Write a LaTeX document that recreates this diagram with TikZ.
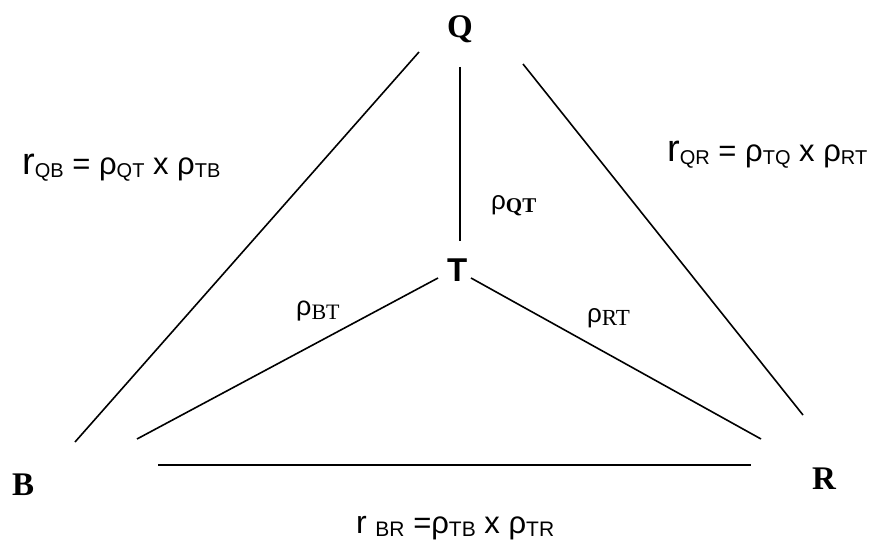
\documentclass[tikz,border=0pt]{standalone}
\usepackage{fontspec}
\setmainfont{Liberation Serif}
\newfontfamily\arial{Liberation Sans}
\newcommand\fs[2]{{\fontsize{#1}{#1}\selectfont #2}}
\newcommand\sbs[3]{\raisebox{-#1pt}{\fontsize{#2}{#2}\selectfont #3}}
\begin{document}
\begin{tikzpicture}[x=1pt,y=-1pt,
  edge/.style={line width=1.6pt},
  lbl/.style={inner sep=0pt, anchor=base west},
  vtx/.style={lbl, font=\bfseries\fontsize{33}{33}\selectfont},
  formula/.style={lbl, font=\arial\fontsize{31}{31}\selectfont}]
\useasboundingbox (0,0) rectangle (872,545);
% vertices
\node[vtx] (Q) at (447,38) {Q};
\node[vtx, font=\arial\bfseries\fontsize{33}{33}\selectfont] (T) at (447,281) {T};
\node[vtx] (B) at (12,495) {B};
\node[vtx] (R) at (812,489) {R};
% connector end points
\coordinate (qb1) at (419,52);  \coordinate (qb2) at (75,442);
\coordinate (qt1) at (460,67);  \coordinate (qt2) at (460,241);
\coordinate (qr1) at (523,64);  \coordinate (qr2) at (803,415);
\coordinate (tb1) at (438,278); \coordinate (tb2) at (137,439);
\coordinate (tr1) at (471,278); \coordinate (tr2) at (761,439);
\coordinate (br1) at (158,465); \coordinate (br2) at (751,465);
\draw[edge] (qb1) -- (qb2);
\draw[edge] (qt1) -- (qt2);
\draw[edge] (qr1) -- (qr2);
\draw[edge] (tb1) -- (tb2);
\draw[edge] (tr1) -- (tr2);
\draw[edge] (br1) -- (br2);
% formulas
\node[formula] (fqb) at (22,175) {\fs{38}{r}\sbs{3}{20}{QB} = ρ\sbs{3}{20}{QT} x ρ\sbs{3}{20}{TB}};
\node[formula] (fqr) at (667,162) {\fs{38}{r}\sbs{3}{20}{QR} = ρ\sbs{3}{20}{TQ} x ρ\sbs{3}{20}{RT}};
\node[formula] (fbr) at (356,533) {\fs{32}{r} \sbs{3}{21}{BR} =ρ\sbs{3}{21}{TB} x ρ\sbs{3}{21}{TR}};
% edge labels
\node[lbl] (lqt) at (491,210) {{\arial\fs{26}{ρ}}\sbs{3}{21}{\bfseries QT}};
\node[lbl] (lbt) at (296,315) {{\arial\fs{27}{ρ}}\sbs{4}{22}{BT}};
\node[lbl] (lrt) at (587,322) {{\arial\fs{26}{ρ}}\sbs{3}{23}{RT}};
\end{tikzpicture}
\end{document}
